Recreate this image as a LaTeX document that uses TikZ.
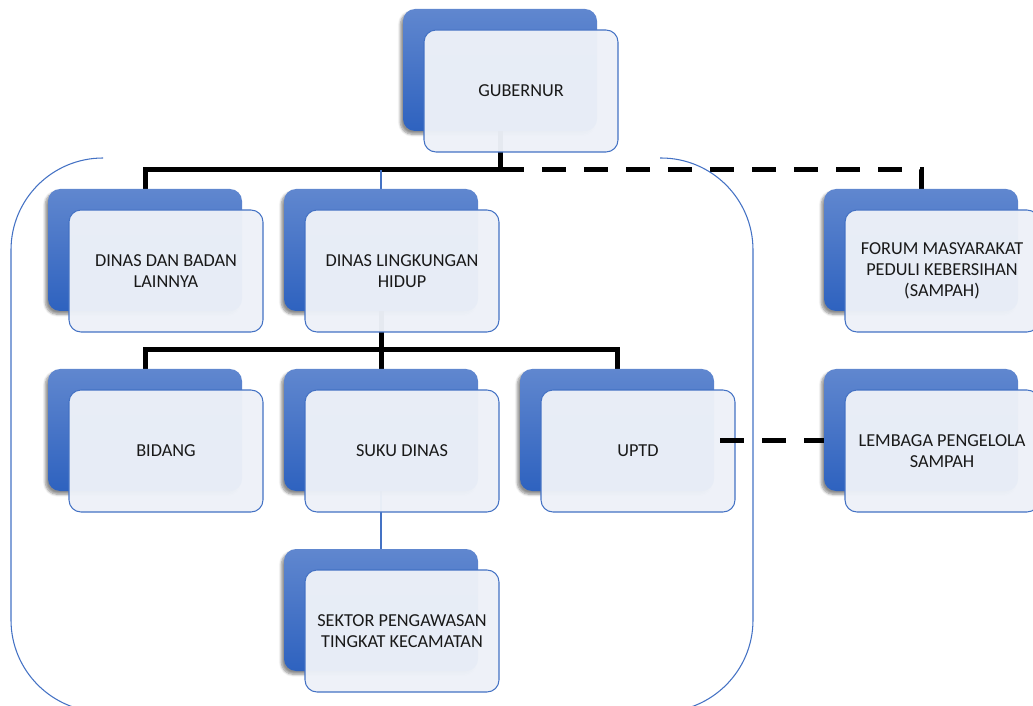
\documentclass[tikz,border=0pt]{standalone}
\usepackage{fontspec}
\setmainfont{Carlito}
\usetikzlibrary{shadows.blur}
\definecolor{boxtop}{HTML}{6087CF}
\definecolor{boxbot}{HTML}{2E62BF}
\definecolor{boxline}{HTML}{4472C4}
\definecolor{boxfill}{HTML}{EDF1F8}
\pgfdeclarelayer{back}
\pgfsetlayers{back,main}
\tikzset{
  backbox/.style={rectangle, rounded corners=9pt, minimum width=145.5pt, minimum height=91.5pt,
    top color=boxtop, bottom color=boxbot, draw=none,
    blur shadow={shadow xshift=-2pt, shadow yshift=-2.5pt, shadow blur steps=6, shadow opacity=45}},
  frontbox/.style={rectangle, rounded corners=9pt, minimum width=145.5pt, minimum height=91.5pt,
    draw=boxline, line width=0.8pt, fill=boxfill, fill opacity=0.97, text opacity=1,
    align=center, font=\fontsize{13.7}{15.5}\selectfont, text=black!90},
  link/.style={black, line width=3.75pt},
  dashlink/.style={black, line width=3.75pt, dash pattern=on 18pt off 13.5pt},
  thinlink/.style={boxline, line width=0.8pt},
}
\newcommand{\orgbox}[4]{% name, x, y, text
  \node[backbox] (#1-b) at (#2,#3) {};
  \node[frontbox] (#1) at (#2+21,#3+21) {#4};
}
\begin{document}
\begin{tikzpicture}[x=0.75pt,y=-0.75pt]
\useasboundingbox (0,0) rectangle (1033,706);
% outer frame
\draw[boxline, line width=0.8pt, rounded corners=69pt] (102,158) -- (11,158) -- (11,712) -- (753,712) -- (753,158) -- (660,158);
% boxes
\orgbox{gub}{500}{70}{GUBERNUR}
\orgbox{lain}{145}{250}{DINAS DAN BADAN\\LAINNYA}
\orgbox{dlh}{381}{250}{DINAS LINGKUNGAN\\HIDUP}
\orgbox{forum}{921}{250}{FORUM MASYARAKAT\\PEDULI KEBERSIHAN\\(SAMPAH)}
\orgbox{bidang}{145}{430}{BIDANG}
\orgbox{suku}{381}{430}{SUKU DINAS}
\orgbox{uptd}{617}{430}{UPTD}
\orgbox{lembaga}{921}{430}{LEMBAGA PENGELOLA\\SAMPAH}
\orgbox{sektor}{381}{610}{SEKTOR PENGAWASAN\\TINGKAT KECAMATAN}
% connectors
\begin{pgfonlayer}{back}
  \coordinate (top) at ([yshift=-29pt]gub-b.south);
  \coordinate (mid) at ([yshift=-28.5pt]dlh-b.south);
  \draw[link] (gub-b.south) -- (top) -| (lain-b.north);
  \draw[dashlink] (top) -| (forum-b.north);
  \draw[thinlink] (dlh-b.north) -- (dlh-b.north |- top);
  \draw[link] (dlh-b.south) -- (mid);
  \draw[link] (bidang-b.north) |- (mid) -| (uptd-b.north);
  \draw[link] (mid) -- (suku-b.north);
  \draw[thinlink] (suku-b.south) -- (sektor-b.north);
\end{pgfonlayer}
\draw[dashlink] ([xshift=4.5pt,yshift=-7.5pt]uptd-b.east) -- ([yshift=-7.5pt]lembaga-b.west);
\end{tikzpicture}
\end{document}
